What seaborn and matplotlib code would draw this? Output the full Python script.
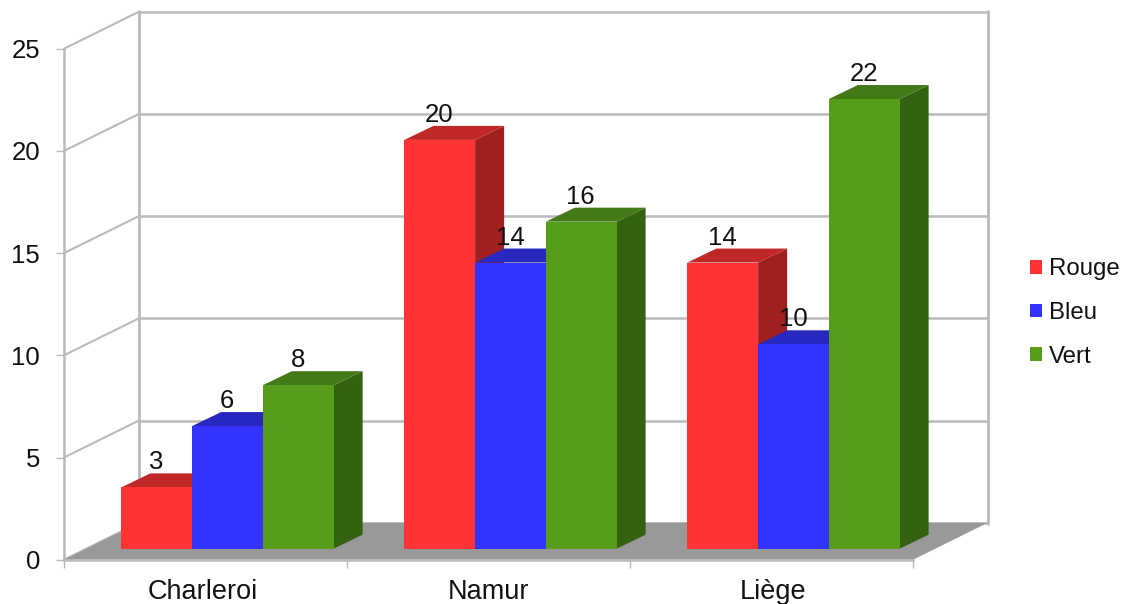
import matplotlib
matplotlib.use("Agg")
import matplotlib.pyplot as plt
import seaborn as sns
import pandas as pd
from matplotlib.patches import Polygon
from matplotlib.lines import Line2D
from matplotlib.transforms import Affine2D, IdentityTransform

cities = ["Charleroi", "Namur", "Liège"]
series_names = ["Rouge", "Bleu", "Vert"]
rouge = [3, 20, 14]
bleu = [6, 14, 10]
vert = [8, 16, 22]
front_colors = ["#ff3333", "#3333ff", "#579d1c"]
top_colors = ["#c02727", "#2828c0", "#437916"]
side_colors = ["#a01f1f", "#1f1fa0", "#356211"]
y_ticks = [0, 5, 10, 15, 20, 25]

W, H = 1123, 604
AX_L, AX_R, AX_B, AX_T = 64, 913, 559.7, 48.7  # plot box, in pixels from the top left
WALL_DX, WALL_DY = 75, 37                      # depth of the scene
BAR_DX, BAR_DY = 22, 11                        # bars stand slightly inside the floor
DEPTH_DX, DEPTH_DY = 29, 14                    # depth of each bar
GRID = "#bababa"
INK = "#111111"
PX = 0.72                                      # points per pixel at 100 dpi
label_nudges = [-3, -0.5, 1.5]                 # horizontal nudge of the category names, in pixels

sns.set_theme(style="white")
plt.rcParams["font.family"] = ["Liberation Sans", "DejaVu Sans"]

fig = plt.figure(figsize=(W / 100, H / 100), dpi=100)
ax = fig.add_axes([AX_L / W, 1 - AX_B / H, (AX_R - AX_L) / W, (AX_B - AX_T) / H])
ax.patch.set_alpha(0)
ax.set_zorder(1)

df = pd.DataFrame({
    "city": cities * 3,
    "series": [s for s in series_names for _ in cities],
    "value": rouge + bleu + vert,
})
sns.barplot(data=df, x="city", y="value", hue="series", order=cities,
            hue_order=series_names, palette=front_colors, width=0.75, gap=0,
            saturation=1, dodge=True, ax=ax, legend=False, linewidth=0)
ax.set_xlim(-0.5, 2.5)
ax.set_ylim(0, 25)
ax.set_xlabel("")
ax.set_ylabel("")
fig.canvas.draw()


def to_px(x, y):
    return ax.transData.transform((x, y))


# floor and walls, drawn in display coordinates behind the axes
origin = IdentityTransform()
x0, y0 = to_px(-0.5, 0)
x1, _ = to_px(2.5, 0)
for t in y_ticks:
    _, yt = to_px(0, t)
    fig.add_artist(Line2D([x0, x0 + WALL_DX], [yt, yt + WALL_DY], color=GRID, lw=1.5,
                          transform=origin, zorder=0.3))
    fig.add_artist(Line2D([x0 + WALL_DX, x1 + WALL_DX], [yt + WALL_DY] * 2, color=GRID, lw=1.8,
                          transform=origin, zorder=0.3))
_, ytop = to_px(0, 25)
for xw in (x0 + WALL_DX, x1 + WALL_DX):
    fig.add_artist(Line2D([xw, xw], [y0 + WALL_DY - 1, ytop + WALL_DY + 1], color=GRID, lw=2.0,
                          transform=origin, zorder=0.3))
fig.add_artist(Polygon([(x0, y0), (x1, y0), (x1 + WALL_DX, y0 + WALL_DY), (x0 + WALL_DX, y0 + WALL_DY)],
                       closed=True, facecolor="#999999", edgecolor="none",
                       transform=origin, zorder=0.5))

# extrude every bar, left to right so nearer faces cover farther ones
shift = Affine2D().translate(BAR_DX, BAR_DY)
bars = [(p, s) for s, cont in enumerate(ax.containers) for p in cont.patches]
bars.sort(key=lambda item: item[0].get_x())
for i, (p, series) in enumerate(bars):
    lx, by = to_px(p.get_x(), 0)
    rx, ty = to_px(p.get_x() + p.get_width(), p.get_height())
    lx, rx, by, ty = lx + BAR_DX, rx + BAR_DX, by + BAR_DY, ty + BAR_DY
    z = 3 + i
    ax.add_patch(Polygon([(rx, by), (rx + DEPTH_DX, by + DEPTH_DY), (rx + DEPTH_DX, ty + DEPTH_DY), (rx, ty)],
                         facecolor=side_colors[series], edgecolor="none",
                         transform=origin, clip_on=False, zorder=z))
    ax.add_patch(Polygon([(lx, ty), (rx, ty), (rx + DEPTH_DX, ty + DEPTH_DY), (lx + DEPTH_DX, ty + DEPTH_DY)],
                         facecolor=top_colors[series], edgecolor="none",
                         transform=origin, clip_on=False, zorder=z))
    p.set_transform(ax.transData + shift)
    p.set_clip_on(False)
    p.set_zorder(z + 0.5)
    ax.annotate(f"{p.get_height():.0f}", xy=(p.get_x() + p.get_width() / 2, p.get_height()),
                xycoords="data", xytext=(BAR_DX - 0.5, BAR_DY + 18), textcoords="offset pixels",
                ha="center", va="baseline", fontsize=18.5, color=INK, zorder=100,
                annotation_clip=False)

# axes
sns.despine(ax=ax, top=True, right=True)
for side in ("left", "bottom"):
    ax.spines[side].set_color(GRID)
    ax.spines[side].set_linewidth(1.8)
ax.set_yticks(y_ticks)
ax.set_xticks([-0.5, 0.5, 1.5, 2.5])
ax.set_xticklabels([""] * 4)
ax.tick_params(axis="x", bottom=True, length=8 * PX, width=1.0, color=GRID)
ax.tick_params(axis="y", left=True, length=8 * PX, width=1.0, color=GRID,
               labelsize=18.5, labelcolor=INK, pad=16 * PX)
for i, name in enumerate(cities):
    ax.annotate(name, xy=(i, 0), xycoords="data", xytext=(label_nudges[i], -39), textcoords="offset pixels",
                ha="center", va="baseline", fontsize=19.5, color=INK, annotation_clip=False)

# legend
handles = [plt.Rectangle((0, 0), 1, 1, facecolor=c, edgecolor="none") for c in front_colors]
fig.legend(handles, series_names, loc="center left", bbox_to_anchor=(1030 / W, 1 - 313 / H),
           frameon=False, fontsize=17.3, handlelength=0.5, handleheight=0.5, handletextpad=0.27,
           labelspacing=0.9, labelcolor=INK, borderpad=0, borderaxespad=0)

fig.savefig("out.png", dpi=100)
